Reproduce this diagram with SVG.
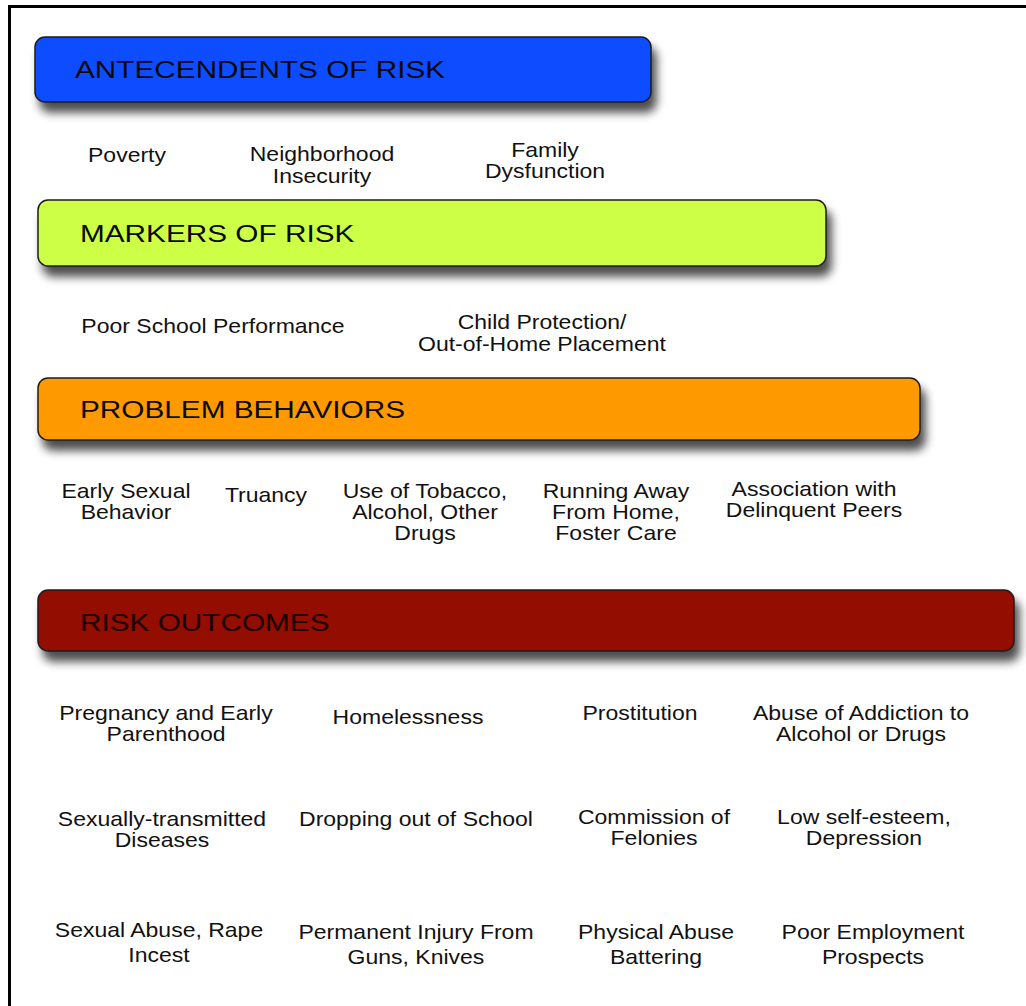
<svg xmlns="http://www.w3.org/2000/svg" width="1026" height="1006" viewBox="0 0 1026 1006">
<style>
.bar{stroke:#1e1e1e;stroke-width:1.5;filter:url(#sh)}
.title{font-family:"Liberation Sans",Arial,sans-serif;font-size:24px;fill:#0a0a0a}
.lbl{font-family:"Liberation Sans",Arial,sans-serif;font-size:20px;fill:#111;text-anchor:middle}
</style>
<defs>
<filter id="sh" x="-5%" y="-40%" width="115%" height="200%">
<feGaussianBlur in="SourceAlpha" stdDeviation="5"/>
<feOffset dx="5" dy="10" result="b"/>
<feComponentTransfer><feFuncA type="linear" slope="0.7"/></feComponentTransfer>
<feMerge><feMergeNode/><feMergeNode in="SourceGraphic"/></feMerge>
</filter>
</defs>
<rect x="0" y="0" width="1026" height="1006" fill="#fff"/>
<rect x="9.5" y="6.5" width="1030" height="1010" fill="none" stroke="#000" stroke-width="3"/>

<g id="bar-antecedents">
<rect class="bar" x="35" y="37" width="616" height="65" rx="10" fill="#0f4eff"/>
<text class="title" transform="translate(75 78) scale(1.24 1)">ANTECENDENTS OF RISK</text>
</g>
<g id="bar-markers">
<rect class="bar" x="38" y="200" width="788" height="66" rx="10" fill="#ccff44"/>
<text class="title" transform="translate(80 242) scale(1.24 1)">MARKERS OF RISK</text>
</g>
<g id="bar-problem">
<rect class="bar" x="38" y="378" width="882" height="62" rx="10" fill="#ff9900"/>
<text class="title" transform="translate(80 418) scale(1.24 1)">PROBLEM BEHAVIORS</text>
</g>
<g id="bar-outcomes">
<rect class="bar" x="38" y="590" width="976" height="61" rx="10" fill="#930f00"/>
<text class="title" transform="translate(80 631) scale(1.24 1)" style="fill:#1a0000">RISK OUTCOMES</text>
</g>

<g id="connectors"></g>

<g id="poverty" transform="translate(127 0) scale(1.15 1)"><text class="lbl" x="0" y="162">Poverty</text></g>
<g id="neighborhood" transform="translate(322 0) scale(1.15 1)"><text class="lbl" x="0" y="161">Neighborhood</text><text class="lbl" x="0" y="183">Insecurity</text></g>
<g id="family" transform="translate(545 0) scale(1.15 1)"><text class="lbl" x="0" y="157">Family</text><text class="lbl" x="0" y="178">Dysfunction</text></g>

<g id="school" transform="translate(213 0) scale(1.15 1)"><text class="lbl" x="0" y="333">Poor School Performance</text></g>
<g id="childprot" transform="translate(542 0) scale(1.15 1)"><text class="lbl" x="0" y="329">Child Protection/</text><text class="lbl" x="0" y="351">Out-of-Home Placement</text></g>

<g id="sexual" transform="translate(126 0) scale(1.15 1)"><text class="lbl" x="0" y="498">Early Sexual</text><text class="lbl" x="0" y="519">Behavior</text></g>
<g id="truancy" transform="translate(266 0) scale(1.15 1)"><text class="lbl" x="0" y="502">Truancy</text></g>
<g id="tobacco" transform="translate(425 0) scale(1.15 1)"><text class="lbl" x="0" y="498">Use of Tobacco,</text><text class="lbl" x="0" y="519">Alcohol, Other</text><text class="lbl" x="0" y="540">Drugs</text></g>
<g id="running" transform="translate(616 0) scale(1.15 1)"><text class="lbl" x="0" y="498">Running Away</text><text class="lbl" x="0" y="519">From Home,</text><text class="lbl" x="0" y="540">Foster Care</text></g>
<g id="association" transform="translate(814 0) scale(1.15 1)"><text class="lbl" x="0" y="496">Association with</text><text class="lbl" x="0" y="517">Delinquent Peers</text></g>

<g id="pregnancy" transform="translate(166 0) scale(1.15 1)"><text class="lbl" x="0" y="720">Pregnancy and Early</text><text class="lbl" x="0" y="741">Parenthood</text></g>
<g id="homeless" transform="translate(408 0) scale(1.15 1)"><text class="lbl" x="0" y="724">Homelessness</text></g>
<g id="prostitution" transform="translate(640 0) scale(1.15 1)"><text class="lbl" x="0" y="720">Prostitution</text></g>
<g id="addiction" transform="translate(861 0) scale(1.15 1)"><text class="lbl" x="0" y="720">Abuse of Addiction to</text><text class="lbl" x="0" y="741">Alcohol or Drugs</text></g>

<g id="std" transform="translate(162 0) scale(1.15 1)"><text class="lbl" x="0" y="826">Sexually-transmitted</text><text class="lbl" x="0" y="847">Diseases</text></g>
<g id="dropout" transform="translate(416 0) scale(1.15 1)"><text class="lbl" x="0" y="826">Dropping out of School</text></g>
<g id="felonies" transform="translate(654 0) scale(1.15 1)"><text class="lbl" x="0" y="824">Commission of</text><text class="lbl" x="0" y="845">Felonies</text></g>
<g id="esteem" transform="translate(864 0) scale(1.15 1)"><text class="lbl" x="0" y="824">Low self-esteem,</text><text class="lbl" x="0" y="845">Depression</text></g>

<g id="abuse" transform="translate(159 0) scale(1.15 1)"><text class="lbl" x="0" y="937">Sexual Abuse, Rape</text><text class="lbl" x="0" y="962">Incest</text></g>
<g id="injury" transform="translate(416 0) scale(1.15 1)"><text class="lbl" x="0" y="939">Permanent Injury From</text><text class="lbl" x="0" y="964">Guns, Knives</text></g>
<g id="physical" transform="translate(656 0) scale(1.15 1)"><text class="lbl" x="0" y="939">Physical Abuse</text><text class="lbl" x="0" y="964">Battering</text></g>
<g id="employment" transform="translate(873 0) scale(1.15 1)"><text class="lbl" x="0" y="939">Poor Employment</text><text class="lbl" x="0" y="964">Prospects</text></g>
</svg>
